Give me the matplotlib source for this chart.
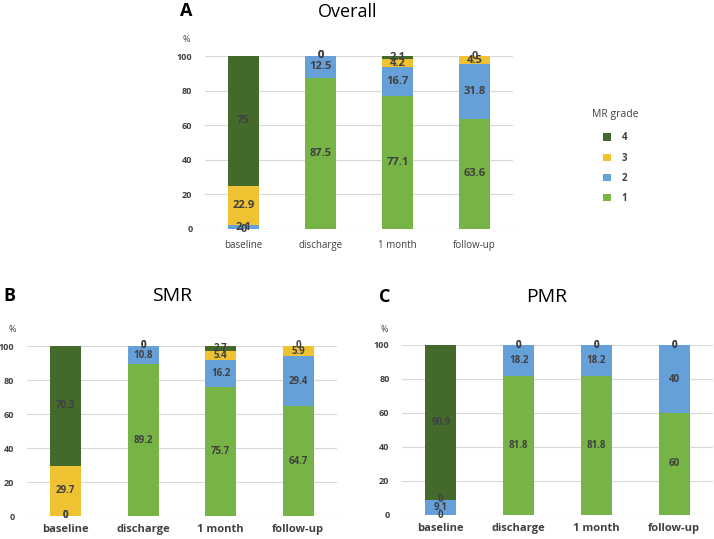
import matplotlib
matplotlib.use("Agg")
import matplotlib.pyplot as plt
from matplotlib.patches import Patch

plt.rcParams['font.family'] = ['Open Sans', 'DejaVu Sans']

categories = ["baseline", "discharge", "1 month", "follow-up"]
grades = ["1", "2", "3", "4"]

overall_g1 = [0, 87.5, 77.1, 63.6]
overall_g2 = [2.1, 12.5, 16.7, 31.8]
overall_g3 = [22.9, 0, 4.2, 4.5]
overall_g4 = [75, 0, 2.1, 0]

smr_g1 = [0, 89.2, 75.7, 64.7]
smr_g2 = [0, 10.8, 16.2, 29.4]
smr_g3 = [29.7, 0, 5.4, 5.9]
smr_g4 = [70.3, 0, 2.7, 0]

pmr_g1 = [0, 81.8, 81.8, 60]
pmr_g2 = [9.1, 18.2, 18.2, 40]
pmr_g3 = [0, 0, 0, 0]
pmr_g4 = [90.9, 0, 0, 0]

colors = {"1": "#76B445", "2": "#66A0D8", "3": "#EFC232", "4": "#436A2B"}
txt_color = "#404040"

fig = plt.figure(figsize=(7.14, 5.39), dpi=100)
W, H = 714, 539


def axes_px(x0, x1, y0, y100):
    return fig.add_axes([x0 / W, 1 - y0 / H, (x1 - x0) / W, (y0 - y100) / H])


def draw(ax, series, tick_fs, xfs, xweight, lab_fs, xpad):
    x = list(range(len(categories)))
    bottoms = [0.0] * len(categories)
    for g, vals in zip(grades, series):
        ax.bar(x, vals, width=0.4, bottom=bottoms, color=colors[g], zorder=2,
               edgecolor="none")
        for i, v in enumerate(vals):
            s = "%g" % v
            ax.text(x[i], bottoms[i] + v / 2, s, ha="center", va="center",
                    fontsize=lab_fs, fontweight="bold", color=txt_color, zorder=3)
        bottoms = [b + v for b, v in zip(bottoms, vals)]
    ax.set_xlim(-0.5, 3.5)
    ax.set_ylim(0, 100)
    ax.set_yticks([0, 20, 40, 60, 80, 100])
    ax.set_xticks(x)
    ax.set_xticklabels(categories, fontsize=xfs, fontweight=xweight, color=txt_color)
    for t in ax.get_yticklabels():
        t.set_fontsize(tick_fs)
        t.set_fontweight("bold")
        t.set_color(txt_color)
    ax.tick_params(axis="both", length=0)
    ax.tick_params(axis="y", pad=9)
    ax.tick_params(axis="x", pad=xpad)
    ax.grid(axis="y", color="#D9D9D9", linewidth=0.8, zorder=0)
    for sp in ax.spines.values():
        sp.set_visible(False)
    ax.set_axisbelow(True)


axA = axes_px(205, 513, 229, 56)
draw(axA, [overall_g1, overall_g2, overall_g3, overall_g4], 6.5, 7, "normal", 8, 8)
axB = axes_px(27, 337, 516, 346)
draw(axB, [smr_g1, smr_g2, smr_g3, smr_g4], 6.5, 8, "bold", 7, 6)
axC = axes_px(402, 713, 515, 345)
draw(axC, [pmr_g1, pmr_g2, pmr_g3, pmr_g4], 6.5, 8, "bold", 7, 6)

# titles, panel letters and % signs
fig.text(348 / W, 1 - 12 / H, "Overall", ha="center", va="center", fontsize=13)
fig.text(186 / W, 1 - 11 / H, "A", ha="center", va="center", fontsize=13, fontweight="bold")
fig.text(186 / W, 1 - 40 / H, "%", ha="center", va="center", fontsize=6.5, color=txt_color)

fig.text(172 / W, 1 - 296 / H, "SMR", ha="center", va="center", fontsize=14)
fig.text(9 / W, 1 - 296 / H, "B", ha="center", va="center", fontsize=13, fontweight="bold")
fig.text(12 / W, 1 - 329 / H, "%", ha="center", va="center", fontsize=6.5, color=txt_color)

fig.text(547 / W, 1 - 297 / H, "PMR", ha="center", va="center", fontsize=14)
fig.text(385 / W, 1 - 297 / H, "C", ha="center", va="center", fontsize=13, fontweight="bold")
fig.text(384 / W, 1 - 329 / H, "%", ha="center", va="center", fontsize=6.5, color=txt_color)

# legend
handles = [Patch(facecolor=colors[g], edgecolor="none", label=g) for g in reversed(grades)]
leg = fig.legend(handles=handles, title="MR grade", loc="upper left",
                 bbox_to_anchor=(588 / W, 1 - 105 / H), frameon=False,
                 fontsize=7, title_fontsize=7.5, handlelength=0.8, handleheight=0.8,
                 labelspacing=0.95, handletextpad=1.1, borderaxespad=0)
leg._legend_box.sep = 9
leg.get_title().set_color(txt_color)
for t in leg.get_texts():
    t.set_color(txt_color)
    t.set_fontweight("bold")

fig.savefig("out.png", dpi=100)
